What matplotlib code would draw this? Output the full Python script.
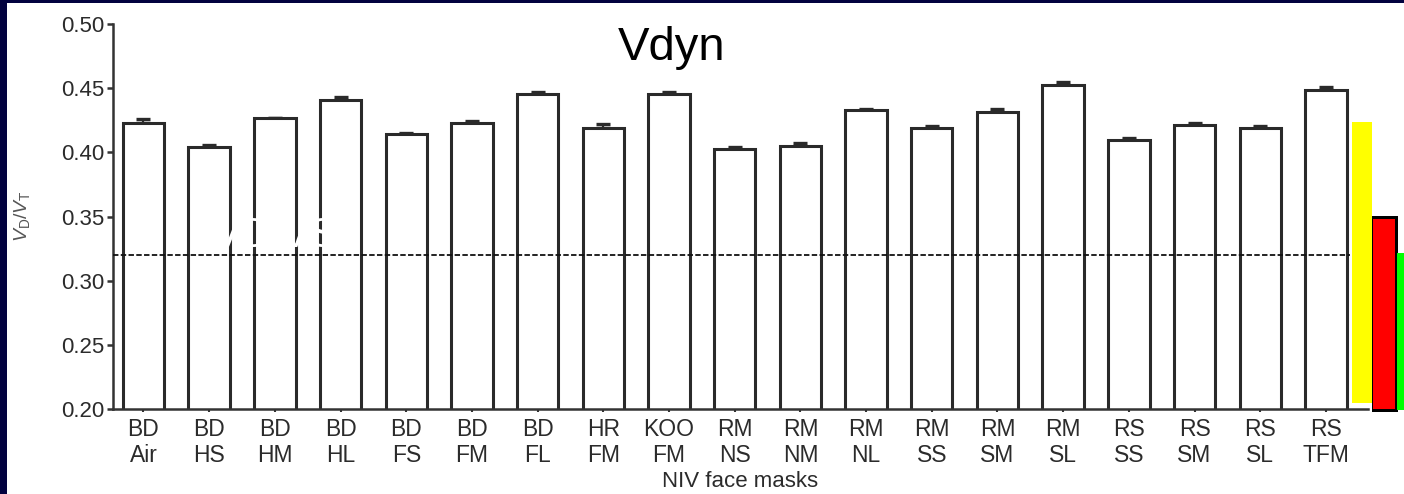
import numpy as np
import matplotlib
matplotlib.use("Agg")
import matplotlib.pyplot as plt
from matplotlib.patches import Rectangle
from matplotlib import font_manager

# --- data -----------------------------------------------------------------
categories = ["BD\nAir", "BD\nHS", "BD\nHM", "BD\nHL", "BD\nFS", "BD\nFM", "BD\nFL",
              "HR\nFM", "KOO\nFM", "RM\nNS", "RM\nNM", "RM\nNL", "RM\nSS", "RM\nSM",
              "RM\nSL", "RS\nSS", "RS\nSM", "RS\nSL", "RS\nTFM"]
vd_vt = [0.4227, 0.4044, 0.4266, 0.4408, 0.4141, 0.4229, 0.4453, 0.4193, 0.4453,
         0.4024, 0.4052, 0.4330, 0.4190, 0.4313, 0.4523, 0.4094, 0.4214, 0.4193, 0.4484]
sem = [0.0035, 0.0010, 0.0005, 0.0020, 0.0012, 0.0018, 0.0018, 0.0030, 0.0018,
       0.0018, 0.0020, 0.0010, 0.0015, 0.0028, 0.0025, 0.0015, 0.0018, 0.0015, 0.0028]
threshold = 0.32
yticks = [0.20, 0.25, 0.30, 0.35, 0.40, 0.45, 0.50]

# --- fonts ----------------------------------------------------------------
available = {f.name for f in font_manager.fontManager.ttflist}
narrow = "Liberation Sans Narrow" if "Liberation Sans Narrow" in available else "Liberation Sans"
plt.rcParams["font.family"] = ["Liberation Sans", "DejaVu Sans"]
plt.rcParams["mathtext.fontset"] = "custom"
plt.rcParams["mathtext.it"] = "Liberation Sans:italic"
plt.rcParams["mathtext.rm"] = "Liberation Sans"

W, H = 1404, 494
fig = plt.figure(figsize=(W / 100, H / 100), dpi=100, facecolor="#02023f")


def px_box(x0, y0, x1, y1):
    """Figure-fraction rectangle from pixel corners (origin top-left)."""
    return (x0 / W, 1 - y1 / H), (x1 - x0) / W, (y1 - y0) / H


# white slide panel
fig.add_artist(Rectangle(*px_box(7, 3, W, H), transform=fig.transFigure,
                         facecolor="white", edgecolor="none", zorder=0))

ax = fig.add_axes([113 / W, 1 - 409 / H, (1368 - 113) / W, (409 - 24) / H])
ax.patch.set_alpha(0)

x = np.arange(len(categories))
ink = "#2a2a2a"
ax.bar(x, vd_vt, width=0.63, color="white", edgecolor=ink, linewidth=2.2, zorder=2)
ax.errorbar(x, vd_vt, yerr=[np.zeros(len(sem)), sem], fmt="none", ecolor=ink,
            elinewidth=1.6, capsize=5.2, capthick=2.4, zorder=1)
ax.axhline(threshold, xmin=0, xmax=0.9857, color="#111111", lw=1.3,
           ls=(0, (3, 1.3)), zorder=3)

ax.set_xlim(-0.464, 18.64)
ax.set_ylim(0.20, 0.50)
ax.set_yticks(yticks)
ax.set_yticklabels([f"{v:.2f}" for v in yticks])
ax.set_xticks(x)
ax.set_xticklabels(categories, linespacing=1.15)

for side in ("top", "right"):
    ax.spines[side].set_visible(False)
for side in ("left", "bottom"):
    ax.spines[side].set_color("#333333")
    ax.spines[side].set_linewidth(1.8)

ax.tick_params(axis="y", direction="out", length=4.5, width=1.8, colors="#333333",
               labelcolor="#2b2b2b", labelsize=16, pad=2)
ax.tick_params(axis="x", direction="out", length=2.5, width=1.5, colors="#333333",
               labelcolor="#2b2b2b", labelsize=16.5, pad=4)
for lab in ax.get_xticklabels() + ax.get_yticklabels():
    lab.set_fontfamily(narrow)

ax.set_xlabel("NIV face masks", fontsize=16, color="#2b2b2b", fontfamily=narrow)
ax.xaxis.set_label_coords(0.5, -0.16)

fig.text(22 / W, 1 - 216 / H, r"$V_{\mathrm{D}}/V_{\mathrm{T}}$", rotation=90,
         ha="center", va="center", fontsize=14, color="#555555")

fig.text(672 / W, 1 - 60 / H, "Vdyn", ha="center", va="baseline", fontsize=34,
         color="black")

# faint white caption over the plot area
fig.text(275 / W, 1 - 236 / H, "VD/VS", ha="center", va="center", fontsize=30,
         color="white", zorder=5)

# coloured side markers
fig.add_artist(Rectangle(*px_box(1352, 122, 1372, 403), transform=fig.transFigure,
                         facecolor="#ffff00", edgecolor="none", zorder=4))
fig.add_artist(Rectangle(*px_box(1372, 216, 1398, 412), transform=fig.transFigure,
                         facecolor="black", edgecolor="none", zorder=4))
fig.add_artist(Rectangle(*px_box(1373, 219, 1395, 409), transform=fig.transFigure,
                         facecolor="#ff0000", edgecolor="none", zorder=4))
fig.add_artist(Rectangle(*px_box(1397, 253, 1404, 410), transform=fig.transFigure,
                         facecolor="#00ff00", edgecolor="none", zorder=4))

fig.savefig("out.png", dpi=100, facecolor=fig.get_facecolor())
